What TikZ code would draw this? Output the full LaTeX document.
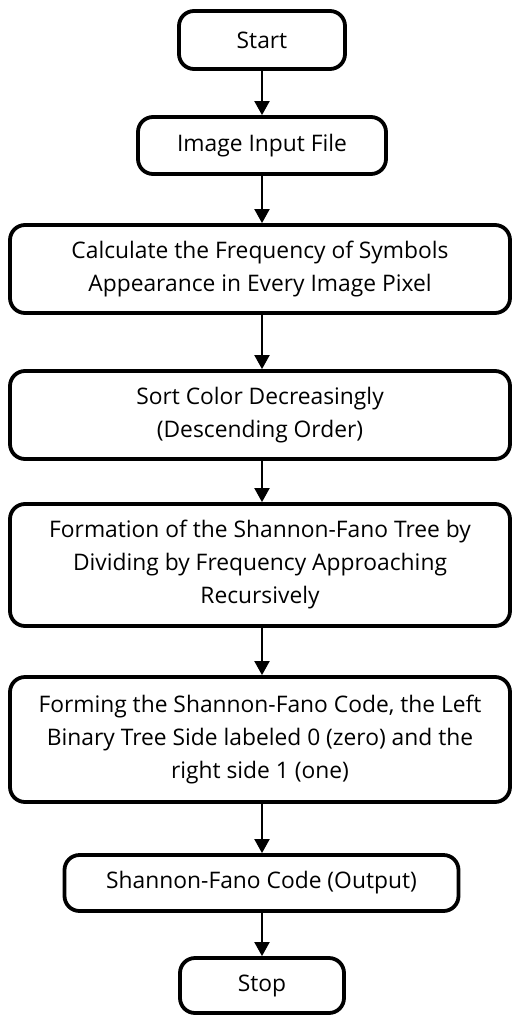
\documentclass[tikz,border=0pt]{standalone}
\usepackage{fontspec}
\setmainfont{Open Sans}
\usetikzlibrary{arrows.meta}
\begin{document}
\begin{tikzpicture}[x=1pt,y=-1pt,
  box/.style={draw=black, line width=3.8pt, rounded corners=15pt, fill=white,
    align=center, inner sep=0pt, font=\fontsize{22.8}{33}\selectfont},
  arr/.style={line width=2pt, -{Triangle[length=14pt,width=15pt]}}]
\useasboundingbox (0,0) rectangle (512,1017);
\node[box, minimum width=166pt, minimum height=58pt] (start) at (262,40) {Start};
\node[box, minimum width=248pt, minimum height=57pt] (input) at (262,145.5) {Image Input File};
\node[box, minimum width=500pt, minimum height=88pt] (calc) at (260,269) {Calculate the Frequency of Symbols\\Appearance in Every Image Pixel};
\node[box, minimum width=500pt, minimum height=88pt] (sort) at (260,415) {Sort Color Decreasingly\\(Descending Order)};
\node[box, minimum width=500pt, minimum height=122pt] (form) at (260,565) {Formation of the Shannon-Fano Tree by\\Dividing by Frequency Approaching\\Recursively};
\node[box, minimum width=500pt, minimum height=125pt] (code) at (260,739.5) {Forming the Shannon-Fano Code, the Left\\Binary Tree Side labeled 0 (zero) and the\\right side 1 (one)};
\node[box, minimum width=394pt, minimum height=56pt] (out) at (261.5,883) {Shannon-Fano Code (Output)};
\node[box, minimum width=164pt, minimum height=55pt] (stop) at (262,985.5) {Stop};
\draw[arr] (start.south -| 262,0) -- (input.north -| 262,0);
\draw[arr] (input.south -| 262,0) -- (calc.north -| 262,0);
\draw[arr] (calc.south -| 262,0) -- (sort.north -| 262,0);
\draw[arr] (sort.south -| 262,0) -- (form.north -| 262,0);
\draw[arr] (form.south -| 262,0) -- (code.north -| 262,0);
\draw[arr] (code.south -| 262,0) -- (out.north -| 262,0);
\draw[arr] (out.south -| 262,0) -- (stop.north -| 262,0);
\end{tikzpicture}
\end{document}
